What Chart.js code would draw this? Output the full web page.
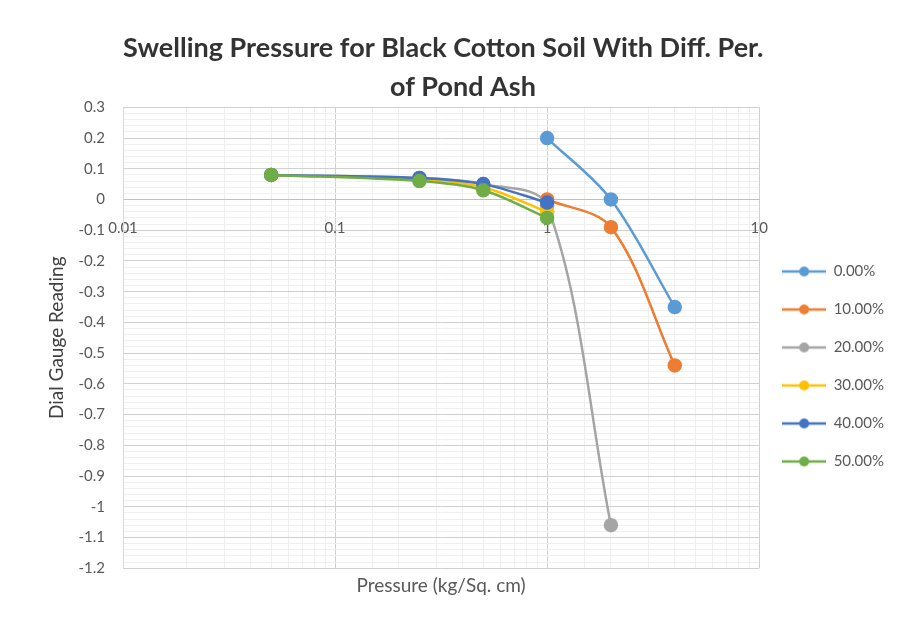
<!DOCTYPE html>
<html>
<head>
<meta charset="utf-8">
<script src="https://cdn.jsdelivr.net/npm/chart.js@4.4.1/dist/chart.umd.min.js"></script>
<style>
  html, body { margin: 0; padding: 0; background: #fff; }
  #wrap { width: 899px; height: 621px; position: relative; }
</style>
</head>
<body>
<div id="wrap"><canvas id="swell_chart"></canvas></div>
<script>
// series names and pressures (kg/sq.cm) with dial gauge readings
var seriesNames = ["0.00%", "10.00%", "20.00%", "30.00%", "40.00%", "50.00%"];
var seriesColors = ["#5B9BD5", "#ED7D31", "#A5A5A5", "#FFC000", "#4472C4", "#70AD47"];

var pressure0 = [1, 2, 4];
var reading0 = [0.2, 0, -0.35];
var pressure10 = [1, 2, 4];
var reading10 = [0, -0.09, -0.54];
var pressure20 = [0.05, 0.25, 0.5, 1, 2];
var reading20 = [0.08, 0.07, 0.05, -0.02, -1.06];
var pressure30 = [0.05, 0.25, 0.5, 1];
var reading30 = [0.08, 0.065, 0.04, -0.04];
var pressure40 = [0.05, 0.25, 0.5, 1];
var reading40 = [0.08, 0.07, 0.05, -0.01];
var pressure50 = [0.05, 0.25, 0.5, 1];
var reading50 = [0.08, 0.06, 0.03, -0.06];

var xTickLabels = [0.01, 0.1, 1, 10];
var yMin = -1.2, yMax = 0.3;

var allPressures = [pressure0, pressure10, pressure20, pressure30, pressure40, pressure50];
var allReadings = [reading0, reading10, reading20, reading30, reading40, reading50];

function toPoints(xs, ys) {
    return xs.map(function(x, i) { return {x: x, y: ys[i]}; });
}

// legend marker: short line with a dot, like the spreadsheet legend
function legendMarker(color) {
    var c = document.createElement("canvas");
    c.width = 44; c.height = 14;
    var g = c.getContext("2d");
    g.strokeStyle = color;
    g.lineWidth = 2.5;
    g.beginPath(); g.moveTo(0, 7); g.lineTo(44, 7); g.stroke();
    g.fillStyle = color;
    g.beginPath(); g.arc(22, 7, 5, 0, Math.PI * 2); g.fill();
    return c;
}

var datasets = seriesNames.map(function(name, i) {
    return {
        label: name,
        data: toPoints(allPressures[i], allReadings[i]),
        borderColor: seriesColors[i],
        backgroundColor: seriesColors[i],
        showLine: true,
        borderWidth: 2.5,
        pointRadius: 6,
        pointHoverRadius: 6,
        tension: 0.33,
        order: seriesNames.length - i   // later series drawn on top
    };
});

var textColor = "#595959";
var fontFamily = "Lato, 'Open Sans', sans-serif";
var nb = "\u00a0";

var ctx = document.getElementById("swell_chart");
var chart = new Chart(ctx, {
    type: "scatter",
    data: { datasets: datasets },
    options: {
        responsive: true,
        maintainAspectRatio: false,
        animation: false,
        layout: { padding: { left: 45, right: 5, top: 8, bottom: 24 } },
        plugins: {
            title: {
                display: true,
                // trailing spaces nudge the centred lines left, as in the original
                text: ["Swelling Pressure for Black Cotton Soil With Diff. Per." + nb.repeat(8),
                       "of Pond Ash" + nb.repeat(2)],
                color: "#333333",
                font: { family: fontFamily, size: 27, weight: "bold", lineHeight: 1.45 },
                padding: { top: 21, bottom: 0 }
            },
            legend: {
                position: "right",
                title: {
                    display: true,
                    text: " ",
                    font: { size: 10 },
                    padding: { top: 116, bottom: 0 }
                },
                labels: {
                    usePointStyle: true,
                    pointStyleWidth: 44,
                    color: textColor,
                    font: { family: fontFamily, size: 15 },
                    padding: 23,
                    generateLabels: function(ch) {
                        return ch.data.datasets.map(function(ds, i) {
                            return {
                                text: ds.label,
                                pointStyle: legendMarker(ds.borderColor),
                                fillStyle: ds.borderColor,
                                strokeStyle: ds.borderColor,
                                fontColor: textColor,
                                lineWidth: 0,
                                hidden: false,
                                datasetIndex: i
                            };
                        });
                    }
                }
            },
            tooltip: { enabled: false }
        },
        scales: {
            x: {
                type: "logarithmic",
                position: { y: 0 },
                min: 0.01,
                max: 10,
                border: { color: "#bfbfbf", width: 1 },
                grid: {
                    drawTicks: false,
                    color: function(c) {
                        var v = c.tick ? c.tick.value : 0;
                        var lg = Math.log10(v);
                        return Math.abs(lg - Math.round(lg)) < 1e-6 ? "#d0d0d0" : "#efefef";
                    }
                },
                ticks: {
                    autoSkip: false,
                    maxRotation: 0,
                    padding: 20,
                    color: textColor,
                    font: { family: fontFamily, size: 15 },
                    callback: function(v) {
                        for (var k = 0; k < xTickLabels.length; k++) {
                            if (Math.abs(v - xTickLabels[k]) < 1e-9) return String(xTickLabels[k]);
                        }
                        return "";
                    }
                }
            },
            // bottom axis only carries the axis title, centred under the plot
            xTitle: {
                type: "logarithmic",
                axis: "x",
                position: "bottom",
                min: 0.01,
                max: 10,
                grid: { display: false, drawTicks: false },
                border: { display: false },
                ticks: { display: false },
                title: {
                    display: true,
                    text: "Pressure (kg/Sq. cm)",
                    color: textColor,
                    font: { family: fontFamily, size: 19 },
                    padding: { top: 6, bottom: 0 }
                }
            },
            y: {
                min: yMin,
                max: yMax,
                border: { color: "#d9d9d9" },
                title: {
                    display: true,
                    text: "Dial Gauge Reading",
                    color: "#404040",
                    font: { family: fontFamily, size: 19 },
                    padding: { top: 0, bottom: 2 }
                },
                grid: {
                    drawTicks: false,
                    color: function(c) {
                        var v = c.tick ? c.tick.value : 0;
                        var n = Math.round(v * 100);
                        return n % 10 === 0 ? "#d0d0d0" : "#f0f0f0";
                    }
                },
                ticks: {
                    stepSize: 0.02,
                    autoSkip: false,
                    padding: 18,
                    color: textColor,
                    font: { family: fontFamily, size: 15 },
                    callback: function(v) {
                        var n = Math.round(v * 100);
                        if (n % 10 !== 0) return "";
                        return String(Number((n / 100).toFixed(1)));
                    }
                },
                afterFit: function(scale) { scale.width = 78; }
            }
        }
    }
});
</script>
</body>
</html>
